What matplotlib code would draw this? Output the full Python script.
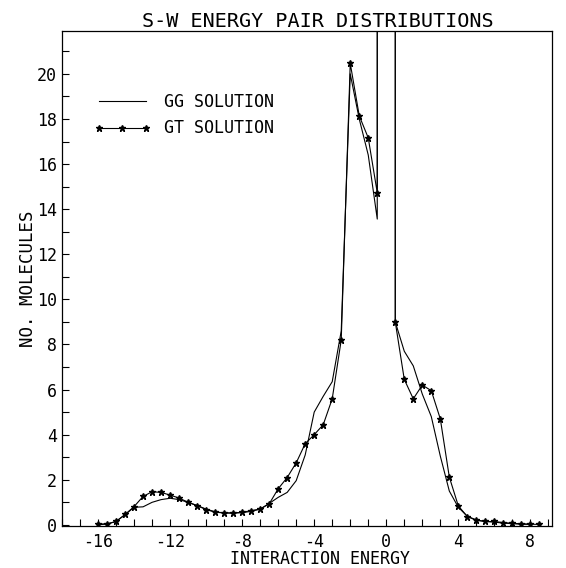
import matplotlib
matplotlib.use("Agg")
import matplotlib.pyplot as plt
import numpy as np
from matplotlib.ticker import MultipleLocator, FuncFormatter

plt.rcParams['font.family'] = ['DejaVu Sans Mono']
plt.rcParams['axes.unicode_minus'] = False

# energy grid (0.5 steps), the zero bin goes off scale
x_left = [-16, -15.5, -15, -14.5, -14, -13.5, -13, -12.5, -12, -11.5, -11, -10.5,
          -10, -9.5, -9, -8.5, -8, -7.5, -7, -6.5, -6, -5.5, -5, -4.5,
          -4, -3.5, -3, -2.5, -2, -1.5, -1, -0.5]
gt_right_x = [0.5, 1, 1.5, 2, 2.5, 3, 3.5, 4, 4.5, 5, 5.5, 6, 6.5, 7, 7.5, 8, 8.5]
gg_right_x = [0.5, 1, 1.5, 2, 2.5, 3, 3.5, 4, 4.5, 5, 5.5, 6, 6.5, 7, 7.5, 8]

gt_left = [0.04, 0.04, 0.15, 0.46, 0.81, 1.26, 1.47, 1.44, 1.32, 1.19, 1.0, 0.85,
           0.68, 0.56, 0.53, 0.53, 0.56, 0.63, 0.7, 0.93, 1.6, 2.1, 2.75, 3.6,
           4.0, 4.44, 5.59, 8.2, 20.47, 18.14, 17.16, 14.73]
gt_right = [9.0, 6.45, 5.59, 6.2, 5.95, 4.7, 2.12, 0.84, 0.37, 0.2, 0.15, 0.15,
            0.1, 0.07, 0.05, 0.03, 0.02]

gg_left = [0.0, 0.04, 0.15, 0.45, 0.78, 0.8, 1.0, 1.12, 1.18, 1.12, 1.0, 0.86,
           0.7, 0.58, 0.53, 0.52, 0.54, 0.6, 0.7, 0.95, 1.22, 1.44, 1.96, 3.1,
           5.0, 5.7, 6.35, 8.6, 20.0, 18.0, 16.4, 13.56]
gg_right = [9.0, 7.7, 7.05, 5.8, 4.8, 3.05, 1.5, 0.78, 0.38, 0.22, 0.15, 0.12,
            0.08, 0.05, 0.03, 0.02]

spike = 60  # off-scale value of the zero bin

gt_x = x_left + [-0.5, 0.5] + gt_right_x
gt_y = gt_left + [spike, spike] + gt_right
gg_x = x_left + [-0.5, 0.5] + gg_right_x
gg_y = gg_left + [spike, spike] + gg_right

fig = plt.figure(figsize=(5.66, 5.68), dpi=100)
ax = fig.add_axes([62/566, 1 - 526/568, 490/566, 495/568])

ax.plot(gg_x, gg_y, color='black', lw=0.8, label='GG SOLUTION')
ax.plot(gt_x, gt_y, color='black', lw=0.8, marker='*', ms=4.5, label='GT SOLUTION')

ax.set_xlim(-18, 9.2)
ax.set_ylim(-0.05, 21.9)

ax.xaxis.set_major_locator(MultipleLocator(4))
ax.xaxis.set_minor_locator(MultipleLocator(1))
ax.yaxis.set_major_locator(MultipleLocator(2))
ax.yaxis.set_minor_locator(MultipleLocator(1))
ax.xaxis.set_major_formatter(FuncFormatter(lambda v, p: f'{int(round(v))}'))
ax.yaxis.set_major_formatter(FuncFormatter(lambda v, p: f'{int(round(v))}'))
ax.tick_params(which='both', direction='in', top=False, right=False,
               length=5, width=0.8, labelsize=12)
ax.tick_params(axis='x', pad=5)
for s in ax.spines.values():
    s.set_linewidth(0.9)

ax.set_title('S-W ENERGY PAIR DISTRIBUTIONS', fontsize=14.5, pad=3, x=0.522)
ax.set_xlabel('INTERACTION ENERGY', fontsize=12, va='baseline')
ax.xaxis.set_label_coords(0.527, -0.0768)
ax.set_ylabel('NO. MOLECULES', fontsize=12.5)
ax.yaxis.set_label_coords(-0.052, 0.5)

ax.legend(loc='upper left', bbox_to_anchor=(0.035, 0.905), frameon=False,
          fontsize=12, handlelength=3.4, handletextpad=0.8, numpoints=3,
          labelspacing=0.5)

fig.savefig('out.png', dpi=100)
